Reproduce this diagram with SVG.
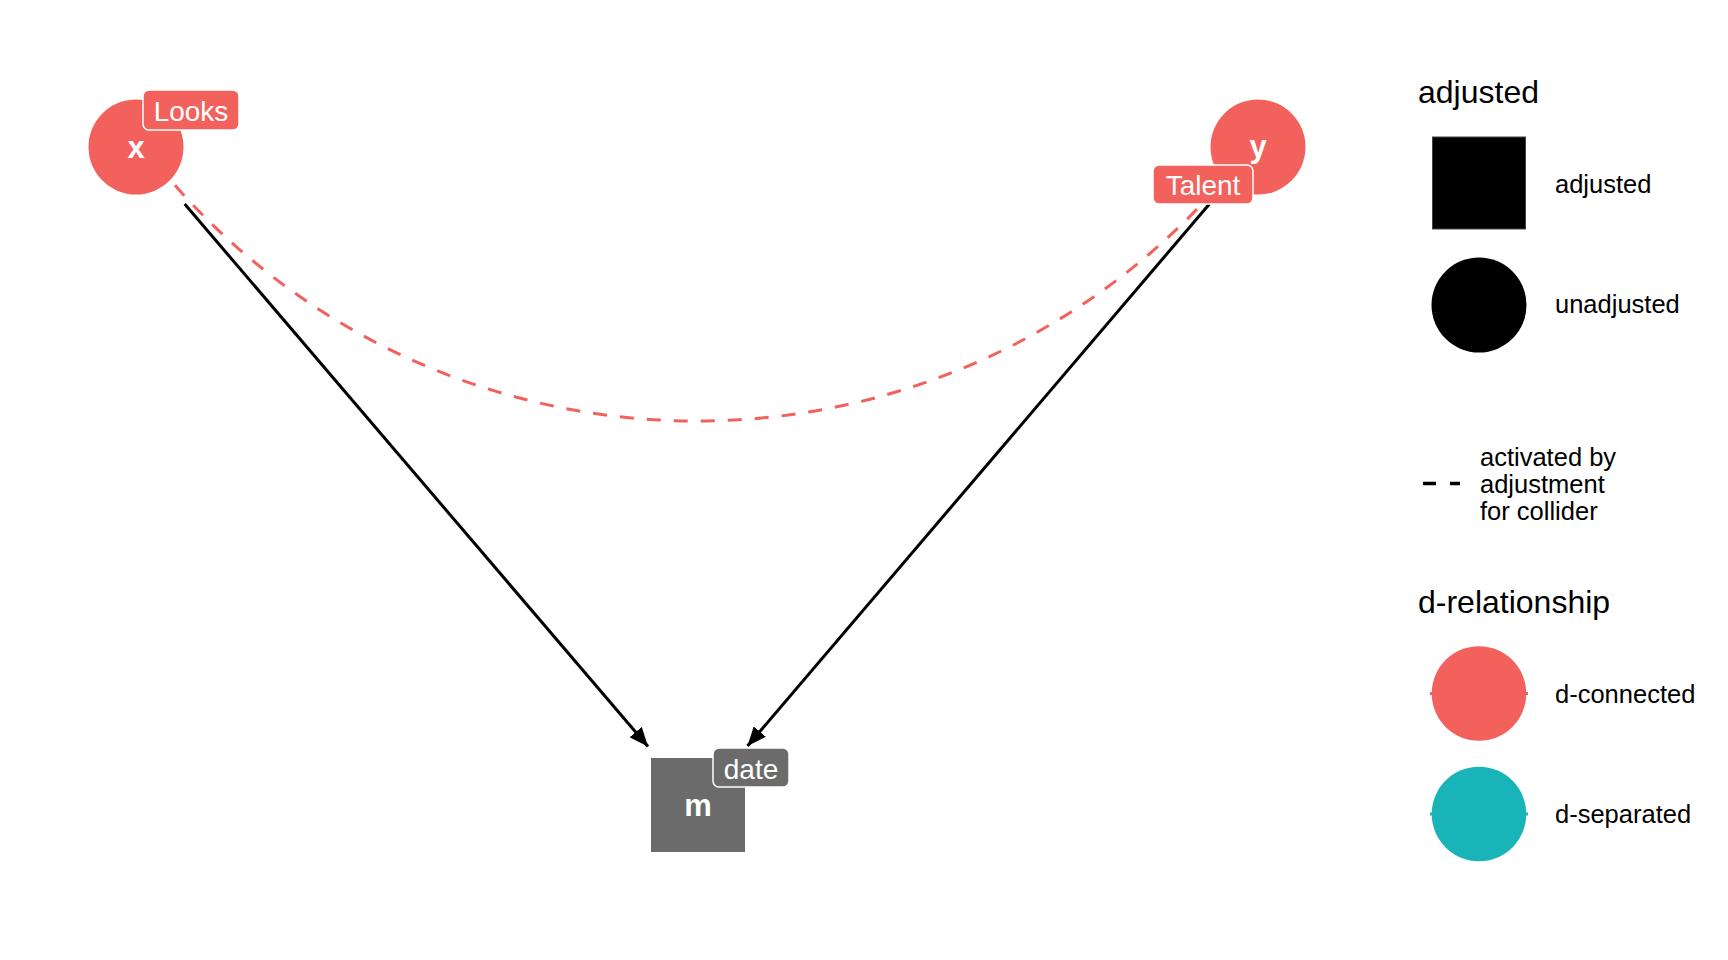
<svg xmlns="http://www.w3.org/2000/svg" width="1728" height="960" viewBox="0 0 1728 960">
<style>
  .bg{fill:#ffffff}
  .edge{fill:none;stroke:#000000;stroke-width:3}
  .arc{fill:none;stroke:#F3615D;stroke-width:3;stroke-dasharray:14 13}
  .red{fill:#F3615D}
  .teal{fill:#19B4B8}
  .grey{fill:#6B6B6B}
  .nodetxt{font-family:"Liberation Sans",Arial,sans-serif;font-weight:bold;font-size:31px;fill:#ffffff;text-anchor:middle}
  .lblbox{stroke:#ffffff;stroke-width:1.5}
  .lbltxt{font-family:"Liberation Sans",Arial,sans-serif;font-size:28px;fill:#ffffff;text-anchor:middle}
  .legtitle{font-family:"Liberation Sans",Arial,sans-serif;font-size:32px;fill:#000000}
  .legtxt{font-family:"Liberation Sans",Arial,sans-serif;font-size:25.5px;fill:#000000}
</style>
<defs>
  <marker id="arrow" viewBox="0 0 19 16" refX="19" refY="8" markerWidth="19" markerHeight="16" markerUnits="userSpaceOnUse" orient="auto">
    <path d="M0,0 L19,8 L0,16 z" fill="#000000"/>
  </marker>
</defs>
<rect class="bg" x="0" y="0" width="1728" height="960"/>

<g id="connectors">
  <path class="arc" d="M175,185.3 A695.8,695.8 0 0 0 1219,185.3"/>
  <line class="edge" x1="184.7" y1="204" x2="648" y2="746.5" marker-end="url(#arrow)"/>
  <line class="edge" x1="1209.4" y1="204" x2="747.5" y2="746" marker-end="url(#arrow)"/>
</g>

<g id="node-x">
  <circle class="red" cx="136" cy="147" r="47.5"/>
  <text class="nodetxt" x="136" y="158">x</text>
  <rect class="red lblbox" x="143" y="90" width="96" height="40" rx="6"/>
  <text class="lbltxt" x="191" y="121">Looks</text>
</g>

<g id="node-y">
  <circle class="red" cx="1258" cy="147" r="47.5"/>
  <text class="nodetxt" x="1258" y="157">y</text>
  <rect class="red lblbox" x="1153" y="165" width="100" height="39" rx="6"/>
  <text class="lbltxt" x="1203" y="195">Talent</text>
</g>

<g id="node-m">
  <rect class="grey" x="651" y="758" width="94" height="94"/>
  <text class="nodetxt" x="698" y="816">m</text>
  <rect class="grey lblbox" x="713" y="748" width="76" height="39" rx="6"/>
  <text class="lbltxt" x="751" y="779">date</text>
</g>

<g id="legend-adjusted">
  <text class="legtitle" x="1418" y="103">adjusted</text>
  <rect x="1432.5" y="137" width="93" height="92" fill="#000000" stroke="#444444" stroke-width="1"/>
  <text class="legtxt" x="1555" y="193">adjusted</text>
  <circle cx="1479" cy="305" r="47.5" fill="#000000"/>
  <text class="legtxt" x="1555" y="313">unadjusted</text>
</g>

<g id="legend-linetype">
  <line x1="1423" y1="483.5" x2="1460" y2="483.5" stroke="#000000" stroke-width="3.5" stroke-dasharray="13 14"/>
  <text class="legtxt" x="1480" y="466">activated by</text>
  <text class="legtxt" x="1480" y="493">adjustment</text>
  <text class="legtxt" x="1480" y="520">for collider</text>
</g>

<g id="legend-drel">
  <text class="legtitle" x="1418" y="613">d-relationship</text>
  <line x1="1430" y1="693.5" x2="1528" y2="693.5" stroke="#F3615D" stroke-width="3"/>
  <circle class="red" cx="1479" cy="693.5" r="47.3"/>
  <text class="legtxt" x="1555" y="703">d-connected</text>
  <line x1="1430" y1="814" x2="1528" y2="814" stroke="#19B4B8" stroke-width="3"/>
  <circle class="teal" cx="1479" cy="814" r="47.3"/>
  <text class="legtxt" x="1555" y="823">d-separated</text>
</g>
</svg>
